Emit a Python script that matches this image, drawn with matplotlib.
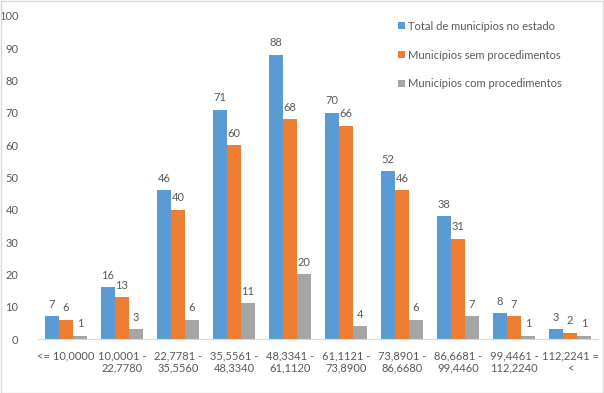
import numpy as np
import matplotlib.pyplot as plt

plt.rcParams['font.family'] = ['Lato', 'DejaVu Sans']

# faixas e valores
faixas = ["<= 10,0000", "10,0001 -\n22,7780", "22,7781 -\n35,5560", "35,5561 -\n48,3340",
          "48,3341 -\n61,1120", "61,1121 -\n73,8900", "73,8901 -\n86,6680", "86,6681 -\n99,4460",
          "99,4461 -\n112,2240", "112,2241 =\n<"]
total = [7, 16, 46, 71, 88, 70, 52, 38, 8, 3]
sem_proc = [6, 13, 40, 60, 68, 66, 46, 31, 7, 2]
com_proc = [1, 3, 6, 11, 20, 4, 6, 7, 1, 1]

series = [
    ("Total de municípios no estado", total, "#5B9BD5"),
    ("Municípios sem procedimentos", sem_proc, "#ED7D31"),
    ("Municípios com procedimentos", com_proc, "#A5A5A5"),
]

txt = "#595959"
fig = plt.figure(figsize=(6.04, 3.93), dpi=100)
fig.patches.append(plt.Rectangle((0.001, 0.001), 0.997, 0.997, transform=fig.transFigure,
                                 fill=False, edgecolor="#D9D9D9", linewidth=1))
ax = fig.add_axes([38 / 604, 54 / 393, 560 / 604, 323 / 393])

x = np.arange(len(faixas))
w = 0.25
for i, (nome, vals, cor) in enumerate(series):
    pos = x + (i - 1) * w
    bars = ax.bar(pos, vals, w, color=cor, label=nome)
    for b, v in zip(bars, vals):
        ax.text(b.get_x() + b.get_width() / 2, v + 2, str(v), ha="center", va="bottom",
                fontsize=8, color=txt)

ax.set_ylim(0, 100)
ax.set_xlim(-0.5, len(faixas) - 0.5)
ax.set_yticks(range(0, 101, 10))
ax.set_xticks(x)
ax.set_xticklabels(faixas)
ax.tick_params(axis="both", length=0, labelsize=8, colors=txt)
ax.tick_params(axis="x", pad=8)
ax.tick_params(axis="y", pad=14)
for s in ["top", "right", "left"]:
    ax.spines[s].set_visible(False)
ax.spines["bottom"].set_color("#D9D9D9")

leg = ax.legend(loc="upper left", bbox_to_anchor=(0.643, 0.985), frameon=False, fontsize=8,
                borderpad=0, borderaxespad=0,
                handlelength=0.6, handleheight=0.6, handletextpad=0.3, labelspacing=1.6,
                labelcolor=txt)

fig.savefig("out.png", dpi=100)
